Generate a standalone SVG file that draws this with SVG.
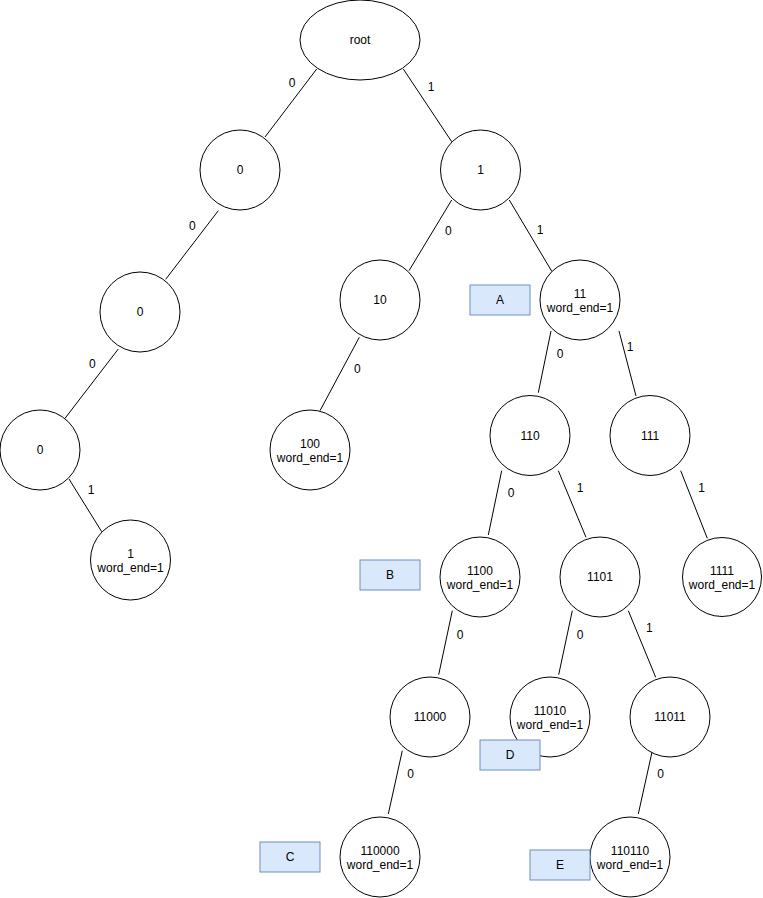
<svg xmlns="http://www.w3.org/2000/svg" width="763" height="898" viewBox="0 0 763 898">
<style>
.n{fill:#fff;stroke:#000;stroke-width:1}
.b{fill:#dae8fc;stroke:#6c8ebf;stroke-width:1}
.e{stroke:#000;stroke-width:1;fill:none}
text{font-family:"Liberation Sans",Arial,Helvetica,sans-serif;font-size:12px;fill:#000;text-anchor:middle}
</style>
<rect width="763" height="898" fill="#fff"/>
<g id="connectors">
<line class="e" x1="316.7" y1="69" x2="265" y2="137"/>
<line class="e" x1="403.3" y1="69" x2="451.7" y2="141.7"/>
<line class="e" x1="218.3" y1="210.7" x2="165.7" y2="279.3"/>
<line class="e" x1="118.3" y1="349" x2="65" y2="418.3"/>
<line class="e" x1="69" y1="479" x2="101.7" y2="531.7"/>
<line class="e" x1="451.7" y1="200" x2="409" y2="270.7"/>
<line class="e" x1="509.3" y1="200" x2="552" y2="271.7"/>
<line class="e" x1="359.3" y1="337.3" x2="320" y2="410.7"/>
<line class="e" x1="551" y1="331" x2="538.3" y2="392.7"/>
<line class="e" x1="619" y1="331" x2="636" y2="396"/>
<line class="e" x1="680.7" y1="470.7" x2="707.3" y2="538.3"/>
<line class="e" x1="501.7" y1="470.7" x2="488.3" y2="535"/>
<line class="e" x1="558.3" y1="470.7" x2="586" y2="537.3"/>
<line class="e" x1="452.3" y1="610.7" x2="438.7" y2="674.7"/>
<line class="e" x1="572.3" y1="610.7" x2="558.7" y2="674.7"/>
<line class="e" x1="628.3" y1="610.7" x2="655.7" y2="677.3"/>
<line class="e" x1="402.3" y1="750.7" x2="388.3" y2="814"/>
<line class="e" x1="652.3" y1="750.7" x2="638.3" y2="814"/>
<text x="292" y="87">0</text>
<text x="431" y="91">1</text>
<text x="192.3" y="230">0</text>
<text x="92.3" y="368">0</text>
<text x="91" y="494">1</text>
<text x="448.3" y="235">0</text>
<text x="540" y="234">1</text>
<text x="357.3" y="373">0</text>
<text x="560" y="358">0</text>
<text x="630" y="351">1</text>
<text x="701.7" y="492">1</text>
<text x="511" y="497">0</text>
<text x="580" y="492">1</text>
<text x="460" y="639">0</text>
<text x="580" y="639">0</text>
<text x="649.3" y="632">1</text>
<text x="410.7" y="778">0</text>
<text x="660.7" y="778">0</text>
</g>
<g id="root"><ellipse class="n" cx="360" cy="40" rx="60" ry="40"/><text x="360" y="44">root</text></g>
<g id="n0"><circle class="n" cx="240" cy="170" r="40"/><text x="240" y="174">0</text></g>
<g id="n00"><circle class="n" cx="140" cy="312" r="40"/><text x="140" y="316">0</text></g>
<g id="n000"><circle class="n" cx="40" cy="450" r="40"/><text x="40" y="454">0</text></g>
<g id="n0001"><circle class="n" cx="130.5" cy="560" r="40"/><text x="130.5" y="557.5">1</text><text x="130.5" y="572">word_end=1</text></g>
<g id="n1"><circle class="n" cx="480.5" cy="170" r="40"/><text x="480.5" y="174">1</text></g>
<g id="n10"><circle class="n" cx="380" cy="300" r="40"/><text x="380" y="304">10</text></g>
<g id="n100"><circle class="n" cx="310" cy="450" r="40"/><text x="310" y="447.5">100</text><text x="310" y="462">word_end=1</text></g>
<g id="n11"><circle class="n" cx="580" cy="300" r="40"/><text x="580" y="297.5">11</text><text x="580" y="312">word_end=1</text></g>
<g id="n110"><circle class="n" cx="530" cy="435.5" r="40"/><text x="530" y="439.5">110</text></g>
<g id="n111"><circle class="n" cx="650" cy="435.5" r="40"/><text x="650" y="439.5">111</text></g>
<g id="n1111"><circle class="n" cx="722" cy="577" r="39.5"/><text x="722" y="574.5">1111</text><text x="722" y="589">word_end=1</text></g>
<g id="n1100"><circle class="n" cx="480" cy="577" r="40"/><text x="480" y="574.5">1100</text><text x="480" y="589">word_end=1</text></g>
<g id="n1101"><circle class="n" cx="600" cy="577" r="40"/><text x="600" y="581">1101</text></g>
<g id="n11000"><circle class="n" cx="430" cy="717" r="40"/><text x="430" y="721">11000</text></g>
<g id="n11010"><circle class="n" cx="550" cy="717" r="40"/><text x="550" y="714.5">11010</text><text x="550" y="729">word_end=1</text></g>
<g id="n11011"><circle class="n" cx="670" cy="717" r="40"/><text x="670" y="721">11011</text></g>
<g id="n110000"><circle class="n" cx="380" cy="857" r="40"/><text x="380" y="854.5">110000</text><text x="380" y="869">word_end=1</text></g>
<g id="n110110"><circle class="n" cx="630" cy="857" r="40"/><text x="630" y="854.5">110110</text><text x="630" y="869">word_end=1</text></g>
<g id="boxA"><rect class="b" x="470" y="285" width="60" height="30"/><text x="500" y="304">A</text></g>
<g id="boxB"><rect class="b" x="360" y="560" width="60" height="30"/><text x="390" y="579">B</text></g>
<g id="boxC"><rect class="b" x="260" y="842" width="60" height="30"/><text x="290" y="861">C</text></g>
<g id="boxD"><rect class="b" x="480" y="740" width="60" height="30"/><text x="510" y="759">D</text></g>
<g id="boxE"><rect class="b" x="530" y="850" width="60" height="30"/><text x="560" y="869">E</text></g>
</svg>
